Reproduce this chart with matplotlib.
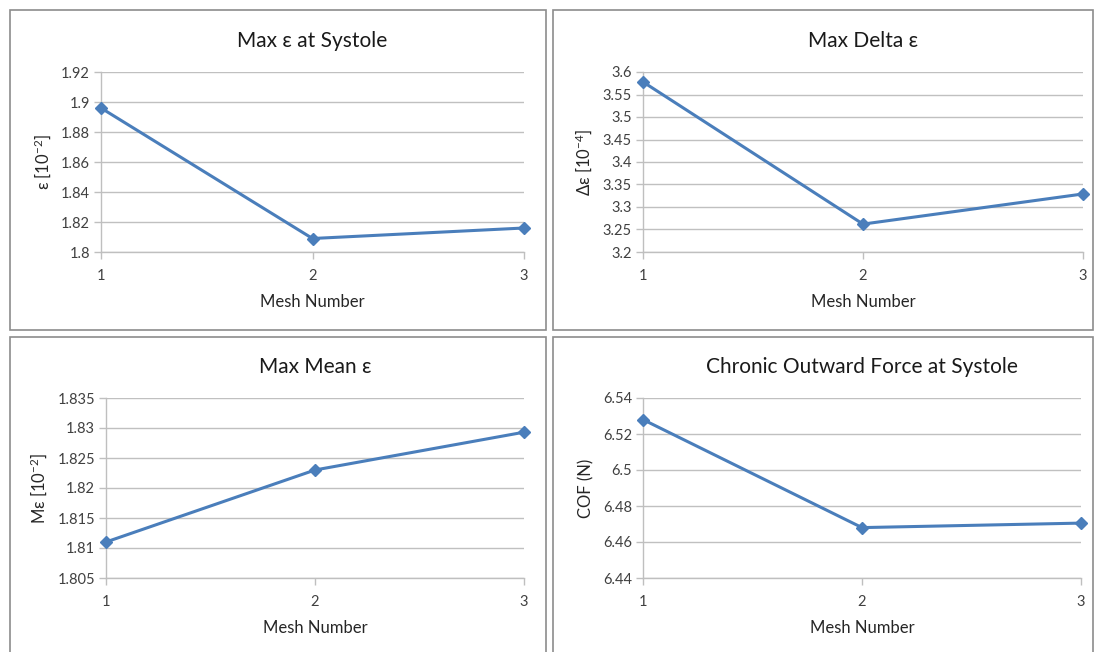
import matplotlib
matplotlib.use("Agg")
import matplotlib.pyplot as plt
from matplotlib.patches import Rectangle
from matplotlib.ticker import MultipleLocator, FuncFormatter

plt.rcParams['font.family'] = ['Lato', 'DejaVu Sans']
plt.rcParams['mathtext.fontset'] = 'custom'
plt.rcParams['mathtext.rm'] = 'Lato'
plt.rcParams['mathtext.it'] = 'Lato'

mesh = [1, 2, 3]

max_strain = [1.896, 1.809, 1.816]
delta_strain = [3.578, 3.262, 3.329]
mean_strain = [1.811, 1.823, 1.8293]
cof = [6.528, 6.468, 6.4705]

titles = ["Max ε at Systole", "Max Delta ε", "Max Mean ε",
          "Chronic Outward Force at Systole"]
ylabels = [r"ε [10$^{-2}$]", r"Δε [10$^{-4}$]", r"Mε [10$^{-2}$]", "COF (N)"]

LINE = "#4a7ebb"
GRID = "#c0c0c0"
TXT = "#404040"

W, H = 1098, 652
fig = plt.figure(figsize=(W / 100, H / 100), dpi=100)


def fx(px):
    return px / W


def fy(py):
    return 1 - py / H


# panel frames (pixels: left, top, right, bottom)
frames = [(10, 10, 546, 330), (553, 10, 1093, 330),
          (10, 337, 546, 660), (553, 337, 1093, 660)]
for l, t, r, b in frames:
    fig.patches.append(Rectangle((fx(l), fy(b)), fx(r - l), fy(t) - fy(b),
                                 transform=fig.transFigure, fill=False,
                                 edgecolor="#8c8c8c", linewidth=1.2))

# plot areas (pixels: left, right, top, bottom)
areas = [(101, 524, 72, 252), (643, 1083, 72, 252),
         (106, 524, 398, 578), (643, 1081, 398, 578)]
limits = [(1.8, 1.92, 0.02), (3.2, 3.6, 0.05),
          (1.805, 1.835, 0.005), (6.44, 6.54, 0.02)]
series = [max_strain, delta_strain, mean_strain, cof]

for i in range(4):
    l, r, t, b = areas[i]
    ax = fig.add_axes([fx(l), fy(b), fx(r - l), fy(t) - fy(b)])
    lo, hi, step = limits[i]
    ax.plot(mesh, series[i], color=LINE, linewidth=2.2, marker="D",
            markersize=6.5, clip_on=False, zorder=3)
    ax.set_xlim(1, 3)
    ax.set_ylim(lo, hi)
    ax.set_xticks(mesh)
    ax.yaxis.set_major_locator(MultipleLocator(step))
    ax.yaxis.set_major_formatter(FuncFormatter(lambda v, p: f"{v:g}"))
    ax.grid(axis="y", color=GRID, linewidth=1)
    ax.set_axisbelow(True)
    for s in ["top", "right"]:
        ax.spines[s].set_visible(False)
    for s in ["left", "bottom"]:
        ax.spines[s].set_color("#bfbfbf")
        ax.spines[s].set_linewidth(1)
    ax.tick_params(axis="both", colors="#bfbfbf", length=5, width=1,
                   labelcolor=TXT, labelsize=10.5)
    ax.tick_params(axis="x", pad=7)
    ax.tick_params(axis="y", pad=3)
    ax.set_xlabel("Mesh Number", fontsize=12, color="#262626", labelpad=8)
    ax.set_ylabel(ylabels[i], fontsize=12, color="#262626", labelpad=6)
    ax.set_title(titles[i], fontsize=15, color="#1a1a1a", pad=18)

fig.savefig("out.png", dpi=100)
